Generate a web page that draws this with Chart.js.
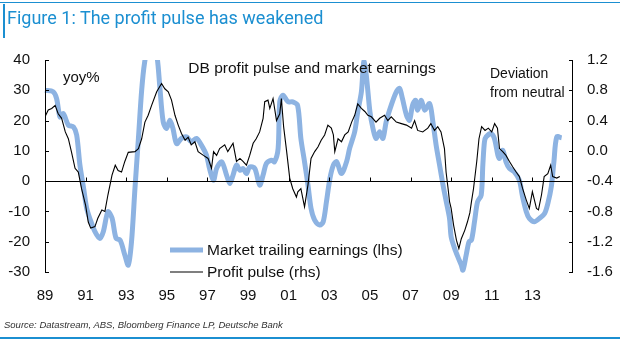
<!DOCTYPE html>
<html>
<head>
<meta charset="utf-8">
<script src="https://cdn.jsdelivr.net/npm/chart.js@4"></script>
<style>
  body { margin: 0; background: #fff; }
  #wrap { position: relative; width: 620px; height: 349px; overflow: hidden; }
  #chartBox { position: absolute; left: 0; top: 0; width: 620px; height: 349px; }
  .rule-top { position: absolute; left: 0; top: 2px; width: 620px; height: 1px; background: #1b8fd1; }
  .bar-left { position: absolute; left: 3px; top: 4px; width: 2px; height: 34px; background: #1b8fd1; }
  .title { position: absolute; left: 7px; top: 7px; font: 18px Roboto, sans-serif; color: #1b8fd1; white-space: nowrap; }
  .source { position: absolute; left: 4px; top: 319px; font: italic 9.5px "Liberation Sans", Arial, sans-serif; color: #333; white-space: nowrap; }
  .rule-bottom { position: absolute; left: 0; top: 337px; width: 620px; height: 2px; background: #1b8fd1; }
</style>
</head>
<body>
<div id="wrap">
  <div id="chartBox"><canvas id="chart"></canvas></div>
  <div class="rule-top"></div>
  <div class="bar-left"></div>
  <div class="title">Figure 1: The profit pulse has weakened</div>
  <div class="source">Source: Datastream, ABS, Bloomberg Finance LP, Deutsche Bank</div>
  <div class="rule-bottom"></div>
</div>
<script>
// market trailing earnings, yoy% (lhs)
const earnYears = [1989.0, 1989.4, 1989.57, 1989.74, 1989.9, 1990.15, 1990.4, 1990.56, 1990.72, 1990.9,
  1991.05, 1991.2, 1991.46, 1991.7, 1991.87, 1992.1, 1992.3, 1992.5, 1992.7, 1992.93,
  1993.1, 1993.26, 1993.43, 1993.6, 1993.76, 1993.9, 1994.1, 1994.35, 1994.5, 1994.57,
  1994.66, 1994.82, 1994.99, 1995.15, 1995.3, 1995.48, 1995.72, 1995.97, 1996.2, 1996.46,
  1996.7, 1996.95, 1997.1, 1997.3, 1997.45, 1997.7, 1997.94, 1998.1, 1998.26, 1998.43,
  1998.6, 1998.75, 1998.92, 1999.08, 1999.33, 1999.57, 1999.74, 1999.9, 2000.15, 2000.3,
  2000.48, 2000.56, 2000.72, 2000.97, 2001.2, 2001.44, 2001.6, 2001.78, 2001.95, 2002.1,
  2002.28, 2002.53, 2002.7, 2002.86, 2003.03, 2003.2, 2003.36, 2003.6, 2003.85, 2004.0,
  2004.25, 2004.4, 2004.58, 2004.7, 2004.82, 2005.0, 2005.15, 2005.3, 2005.48, 2005.64,
  2005.8, 2006.05, 2006.3, 2006.46, 2006.6, 2006.8, 2006.95, 2007.1, 2007.25, 2007.35,
  2007.53, 2007.7, 2007.94, 2008.1, 2008.26, 2008.43, 2008.6, 2008.76, 2008.92, 2009.0,
  2009.17, 2009.33, 2009.5, 2009.58, 2009.74, 2009.88, 2010.0, 2010.15, 2010.3, 2010.48,
  2010.56, 2010.64, 2010.72, 2010.97, 2011.13, 2011.3, 2011.38, 2011.54, 2011.7, 2011.87,
  2012.1, 2012.36, 2012.5, 2012.7, 2012.85, 2013.1, 2013.35, 2013.6, 2013.76, 2013.93,
  2014.06, 2014.2, 2014.44];
const earnValues = [30, 29.5, 27.3, 21.2, 22.3, 18.5, 17.9, 15.2, 5.3, -2.3,
  -8.9, -12.2, -16.7, -18.9, -16.7, -10.1, -12.2, -18.9, -19.5, -24.4,
  -27.7, -20, -2.4, 14.1, 30, 39, 45, 47, 42, 38,
  30.7, 19.6, 17.4, 20.1, 17.4, 12.4, 14.1, 14.6, 13, 14.1,
  11.9, 8.6, 4.2, 0.3, 4.2, 6.4, 2, -0.8, 2, 5.3,
  3.6, 4.2, 2.5, 4.7, 4.2, -1.3, 2, 5.8, 6.9, 6.4,
  10.8, 26.2, 28.4, 26.2, 26.2, 25, 14.1, 6.4, -1.3, -9,
  -12.9, -14.5, -13.4, -6.8, 0.9, 5.3, 6.4, 2.5, 6.4, 10.8,
  16.3, 22.9, 29.5, 39.5, 35, 22.9, 17.4, 14.1, 16.3, 14.1,
  19.6, 25.1, 29.5, 30.6, 27.3, 21.8, 20.1, 25.1, 26.7, 23.4,
  26.7, 23.4, 25.6, 19.6, 11.9, 5.3, -1.3, -6.8, -12.3, -18.4,
  -22.2, -25, -27.7, -29.4, -24.4, -20, -19.5, -13.4, -6.8, -4.6,
  5.3, 13, 14.6, 15.7, 14.1, 8.6, 7.5, 10.2, 6.4, 4.2,
  3.1, 0.3, -4.6, -10.1, -12.3, -13.4, -12.3, -10.7, -7.4, -1.9,
  6.4, 14.6, 14.3];

// profit pulse, deviation from neutral (rhs)
const pulseYears = [1989.0, 1989.16, 1989.33, 1989.5, 1989.65, 1989.82, 1990.0, 1990.15, 1990.3, 1990.48,
  1990.64, 1990.8, 1991.0, 1991.13, 1991.25, 1991.46, 1991.6, 1991.8, 1991.95, 1992.1,
  1992.3, 1992.46, 1992.6, 1992.77, 1992.93, 1993.1, 1993.43, 1993.6, 1993.76, 1993.92,
  1994.08, 1994.25, 1994.5, 1994.74, 1994.9, 1995.07, 1995.23, 1995.4, 1995.56, 1995.72,
  1995.9, 1996.05, 1996.2, 1996.38, 1996.54, 1996.8, 1997.03, 1997.2, 1997.3, 1997.45,
  1997.6, 1997.85, 1998.0, 1998.26, 1998.43, 1998.6, 1998.75, 1998.92, 1999.08, 1999.25,
  1999.4, 1999.57, 1999.74, 1999.82, 1999.98, 2000.07, 2000.23, 2000.4, 2000.56, 2000.64,
  2000.75, 2000.9, 2001.05, 2001.2, 2001.38, 2001.45, 2001.6, 2001.78, 2001.95, 2002.1,
  2002.28, 2002.44, 2002.6, 2002.77, 2002.93, 2003.1, 2003.2, 2003.27, 2003.43, 2003.6,
  2003.76, 2003.93, 2004.1, 2004.25, 2004.4, 2004.58, 2004.75, 2004.9, 2005.07, 2005.3,
  2005.48, 2005.72, 2005.88, 2006.05, 2006.3, 2006.55, 2006.8, 2007.05, 2007.2, 2007.35,
  2007.6, 2007.85, 2008.0, 2008.18, 2008.34, 2008.5, 2008.67, 2008.75, 2008.85, 2008.92,
  2009.0, 2009.12, 2009.26, 2009.38, 2009.5, 2009.67, 2009.8, 2009.92, 2010.0, 2010.1,
  2010.26, 2010.37, 2010.5, 2010.67, 2010.83, 2011.0, 2011.14, 2011.28, 2011.38, 2011.54,
  2011.7, 2011.87, 2012.03, 2012.2, 2012.36, 2012.52, 2012.7, 2012.85, 2013.0, 2013.2,
  2013.3, 2013.45, 2013.58, 2013.76, 2013.9, 2014.0, 2014.2, 2014.35];
const pulseValues = [0.45, 0.54, 0.56, 0.60, 0.49, 0.43, 0.25, 0.16, -0.01, -0.23,
  -0.28, -0.50, -0.72, -0.94, -1.02, -1.00, -0.89, -0.78, -0.80, -0.58,
  -0.32, -0.19, -0.26, -0.28, -0.14, -0.02, -0.01, 0.03, 0.16, 0.38,
  0.47, 0.60, 0.78, 0.89, 0.82, 0.78, 0.67, 0.47, 0.34, 0.23,
  0.14, 0.18, 0.08, 0.12, -0.01, -0.06, -0.10, -0.23, -0.01, -0.06,
  0.03, 0.08, -0.01, 0.10, -0.14, -0.10, -0.14, -0.19, -0.06, 0.10,
  0.16, 0.25, 0.43, 0.65, 0.67, 0.56, 0.69, 0.40, 0.49, 0.69,
  0.32, -0.01, -0.36, -0.50, -0.61, -0.54, -0.50, -0.74, -0.45, -0.10,
  -0.01, 0.05, 0.14, 0.21, 0.34, 0.30, 0.21, -0.01, 0.16, 0.12,
  0.21, 0.25, 0.38, 0.47, 0.62, 0.56, 0.52, 0.47, 0.45, 0.38,
  0.43, 0.47, 0.40, 0.45, 0.38, 0.36, 0.34, 0.30, 0.40, 0.27,
  0.25, 0.30, 0.36, 0.27, 0.32, 0.25, 0.03, -0.28, -0.50, -0.67,
  -0.76, -0.98, -1.18, -1.29, -1.16, -1.05, -0.94, -0.82, -0.67, -0.50,
  -0.14, 0.16, 0.32, 0.27, 0.30, 0.25, 0.36, 0.30, 0.03, -0.01,
  -0.06, -0.14, -0.21, -0.28, -0.34, -0.50, -0.65, -0.76, -0.54, -0.76,
  -0.78, -0.58, -0.34, -0.30, -0.19, -0.34, -0.36, -0.34];

const leftMin = -30, leftMax = 40, leftStep = 10;
const rightMin = -1.6, rightMax = 1.2, rightStep = 0.4;
const yearMin = 1989, yearMax = 2015, yearStep = 2;

const blue = '#8db3e2';
const fontFamily = '"Liberation Sans", Arial, sans-serif';

const earnPoints = earnYears.map((x, i) => ({ x: x, y: earnValues[i] }));
const pulsePoints = pulseYears.map((x, i) => ({ x: x, y: pulseValues[i] }));

// axis lines, inward ticks, zero line, text notes and legend
const decorations = {
    id: 'decorations',
    afterDatasetsDraw(chart) {
        const ctx = chart.ctx;
        const area = chart.chartArea;
        const x = chart.scales.x, yl = chart.scales.y, yr = chart.scales.y1;
        ctx.save();
        ctx.strokeStyle = '#000';
        ctx.lineWidth = 1;
        ctx.beginPath();
        ctx.moveTo(area.left + 0.5, area.top); ctx.lineTo(area.left + 0.5, area.bottom);
        ctx.moveTo(area.right - 0.5, area.top); ctx.lineTo(area.right - 0.5, area.bottom);
        yl.ticks.forEach(t => {
            const py = Math.round(yl.getPixelForValue(t.value)) + 0.5;
            ctx.moveTo(area.left, py); ctx.lineTo(area.left + 4, py);
        });
        yr.ticks.forEach(t => {
            const py = Math.round(yr.getPixelForValue(t.value)) + 0.5;
            ctx.moveTo(area.right, py); ctx.lineTo(area.right - 4, py);
        });
        // zero line with year ticks
        const y0 = Math.round(yl.getPixelForValue(0)) + 0.5;
        ctx.moveTo(area.left, y0); ctx.lineTo(area.right, y0);
        x.ticks.forEach(t => {
            if (t.value <= yearMin || t.value >= yearMax) return;
            const px = Math.round(x.getPixelForValue(t.value)) + 0.5;
            ctx.moveTo(px, y0); ctx.lineTo(px, y0 - 4);
        });
        ctx.stroke();

        ctx.fillStyle = '#111';
        ctx.textBaseline = 'middle';
        ctx.font = '15.5px ' + fontFamily;
        ctx.textAlign = 'center';
        ctx.fillText('DB profit pulse and market earnings', 312, 69);
        ctx.textAlign = 'left';
        ctx.font = '15px ' + fontFamily;
        ctx.fillText('yoy%', 63, 78);
        ctx.font = '14px ' + fontFamily;
        ctx.fillText('Deviation', 490, 74);
        ctx.fillText('from neutral', 490, 93);

        // legend
        const rows = [250, 272];
        chart.data.datasets.forEach((d, i) => {
            ctx.strokeStyle = d.borderColor;
            ctx.lineWidth = d.borderWidth;
            ctx.beginPath();
            ctx.moveTo(170, rows[i]); ctx.lineTo(203, rows[i]);
            ctx.stroke();
            ctx.fillStyle = '#111';
            ctx.font = '15.5px ' + fontFamily;
            ctx.fillText(d.label, 207, rows[i] + 1);
        });
        ctx.restore();
    }
};

new Chart(document.getElementById('chart'), {
    type: 'line',
    data: {
        datasets: [
            {
                label: 'Market trailing earnings (lhs)',
                data: earnPoints,
                yAxisID: 'y',
                order: 1,
                borderColor: blue,
                borderWidth: 5,
                pointRadius: 0,
                tension: 0.3,
                clip: { left: 4, top: 0, right: 4, bottom: 4 }
            },
            {
                label: 'Profit pulse (rhs)',
                data: pulsePoints,
                yAxisID: 'y1',
                order: 0,
                borderColor: '#000',
                borderWidth: 1.1,
                pointRadius: 0,
                tension: 0
            }
        ]
    },
    options: {
        responsive: true,
        maintainAspectRatio: false,
        animation: false,
        events: [],
        layout: { padding: { top: 60, left: 0, right: 0, bottom: 0 } },
        scales: {
            x: {
                type: 'linear',
                min: yearMin,
                max: yearMax,
                grid: { display: false, drawTicks: false },
                border: { display: false },
                afterFit: s => { s.height = 77; },
                ticks: {
                    stepSize: yearStep,
                    padding: 15,
                    color: '#111',
                    font: { family: fontFamily, size: 15 },
                    maxRotation: 0,
                    autoSkip: false,
                    callback: v => v >= yearMax ? '' : String(v % 100).padStart(2, '0')
                }
            },
            y: {
                position: 'left',
                min: leftMin,
                max: leftMax,
                grid: { display: false, drawTicks: false },
                border: { display: false },
                afterFit: s => { s.width = 45; },
                ticks: {
                    stepSize: leftStep,
                    padding: 15,
                    color: '#111',
                    font: { family: fontFamily, size: 15 }
                }
            },
            y1: {
                position: 'right',
                min: rightMin,
                max: rightMax,
                grid: { display: false, drawTicks: false },
                border: { display: false },
                afterFit: s => { s.width = 47; },
                ticks: {
                    stepSize: rightStep,
                    padding: 14,
                    color: '#111',
                    font: { family: fontFamily, size: 15 },
                    callback: v => (Math.abs(v) < 1e-9 ? 0 : v).toFixed(1)
                }
            }
        },
        plugins: {
            legend: { display: false },
            tooltip: { enabled: false }
        }
    },
    plugins: [decorations]
});
</script>
</body>
</html>
